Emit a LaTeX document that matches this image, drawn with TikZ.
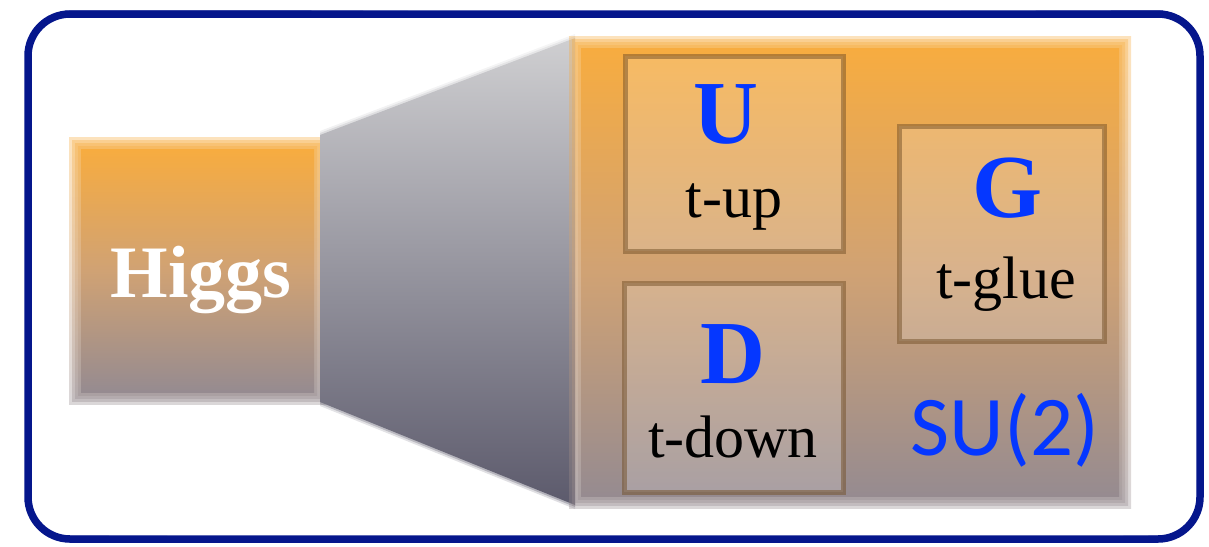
\documentclass[tikz,border=0pt]{standalone}
\usepackage{fontspec}
\setmainfont{Liberation Serif}
\newfontfamily\sufont{Carlito}
\definecolor{navy}{RGB}{5,22,140}
\definecolor{orTop}{RGB}{247,172,64}
\definecolor{orMid}{RGB}{208,162,116}
\definecolor{orBot}{RGB}{150,139,144}
\definecolor{gyTop}{RGB}{207,207,209}
\definecolor{gyBot}{RGB}{92,90,108}
\definecolor{txtblue}{RGB}{5,55,255}
\definecolor{boxline}{RGB}{115,80,40}
\tikzset{
  orshade/.style={top color=orTop, bottom color=orBot, middle color=orMid},
  tbox/.style={draw=boxline, draw opacity=0.5, line width=5pt, fill=white, fill opacity=0.18, text opacity=1, inner sep=0pt},
  letter/.style={anchor=base, text=txtblue, font=\fontsize{90}{90}\selectfont\bfseries, inner sep=0pt},
  word/.style={anchor=base, text=black, font=\fontsize{60}{60}\selectfont, inner sep=0pt},
}
\newcommand\blurbox[4]{%
  \foreach \d in {6,3,0,-3}{%
    \shade[orshade, opacity=0.35] (#1-\d,#2-\d) rectangle (#3+\d,#4+\d);}%
  \shade[orshade] (#1+6,#2+6) rectangle (#3-6,#4-6);}
\begin{document}
\begin{tikzpicture}[x=1pt,y=-1pt]
\useasboundingbox (0,0) rectangle (1209,546);
% Higgs box
\blurbox{75}{143}{320}{398}
\node[anchor=base, text=white, font=\fontsize{74}{74}\selectfont\bfseries, inner sep=0pt] (higgs) at (201,297) {Higgs};
% funnel
\foreach \d/\o in {4/0.2,2/0.35}{%
  \shade[top color=gyTop, bottom color=gyBot, opacity=\o] (320,135-\d) -- (575,38-\d) -- (575,505+\d) -- (320,402+\d) -- cycle;}
\shade[top color=gyTop, bottom color=gyBot] (320,135) -- (575,38) -- (575,505) -- (320,402) -- cycle;
% big box
\blurbox{575}{42}{1125}{502}
% inner boxes
\node[tbox, minimum width=218pt, minimum height=195pt] (Ubox) at (734,153.5) {};
\node[tbox, minimum width=219pt, minimum height=209pt] (Dbox) at (733.5,387.5) {};
\node[tbox, minimum width=205pt, minimum height=215pt] (Gbox) at (1001.5,233.5) {};
\node[letter] (U) at (726,143) {U};
\node[word] (tup) at (734,217) {t-up};
\node[letter] (D) at (733,383) {D};
\node[word] (tdown) at (733,457) {t-down};
\node[letter] (G) at (1007,217) {G};
\node[word] (tglue) at (1006,298) {t-glue};
\node[anchor=base, text=txtblue, font=\fontsize{85}{85}\selectfont\sufont, inner sep=0pt] (su) at (1005,455) {SU(2)};
% frame
\draw[navy, line width=7.5pt, rounded corners=42pt] (28,14) rectangle (1200,539);
\draw[navy, line width=1.6pt, rounded corners=44pt, opacity=0.8] (26,17) -- (30,300) -- (31,542) -- (700,541) -- (1203,536) -- (1198,280) -- (1201,11) -- (600,13) -- cycle;
\draw[navy, line width=1.2pt, rounded corners=40pt, opacity=0.7] (31,11) -- (29,536) -- (1197,541) -- (1202,16) -- (300,11) -- cycle;
\end{tikzpicture}
\end{document}
